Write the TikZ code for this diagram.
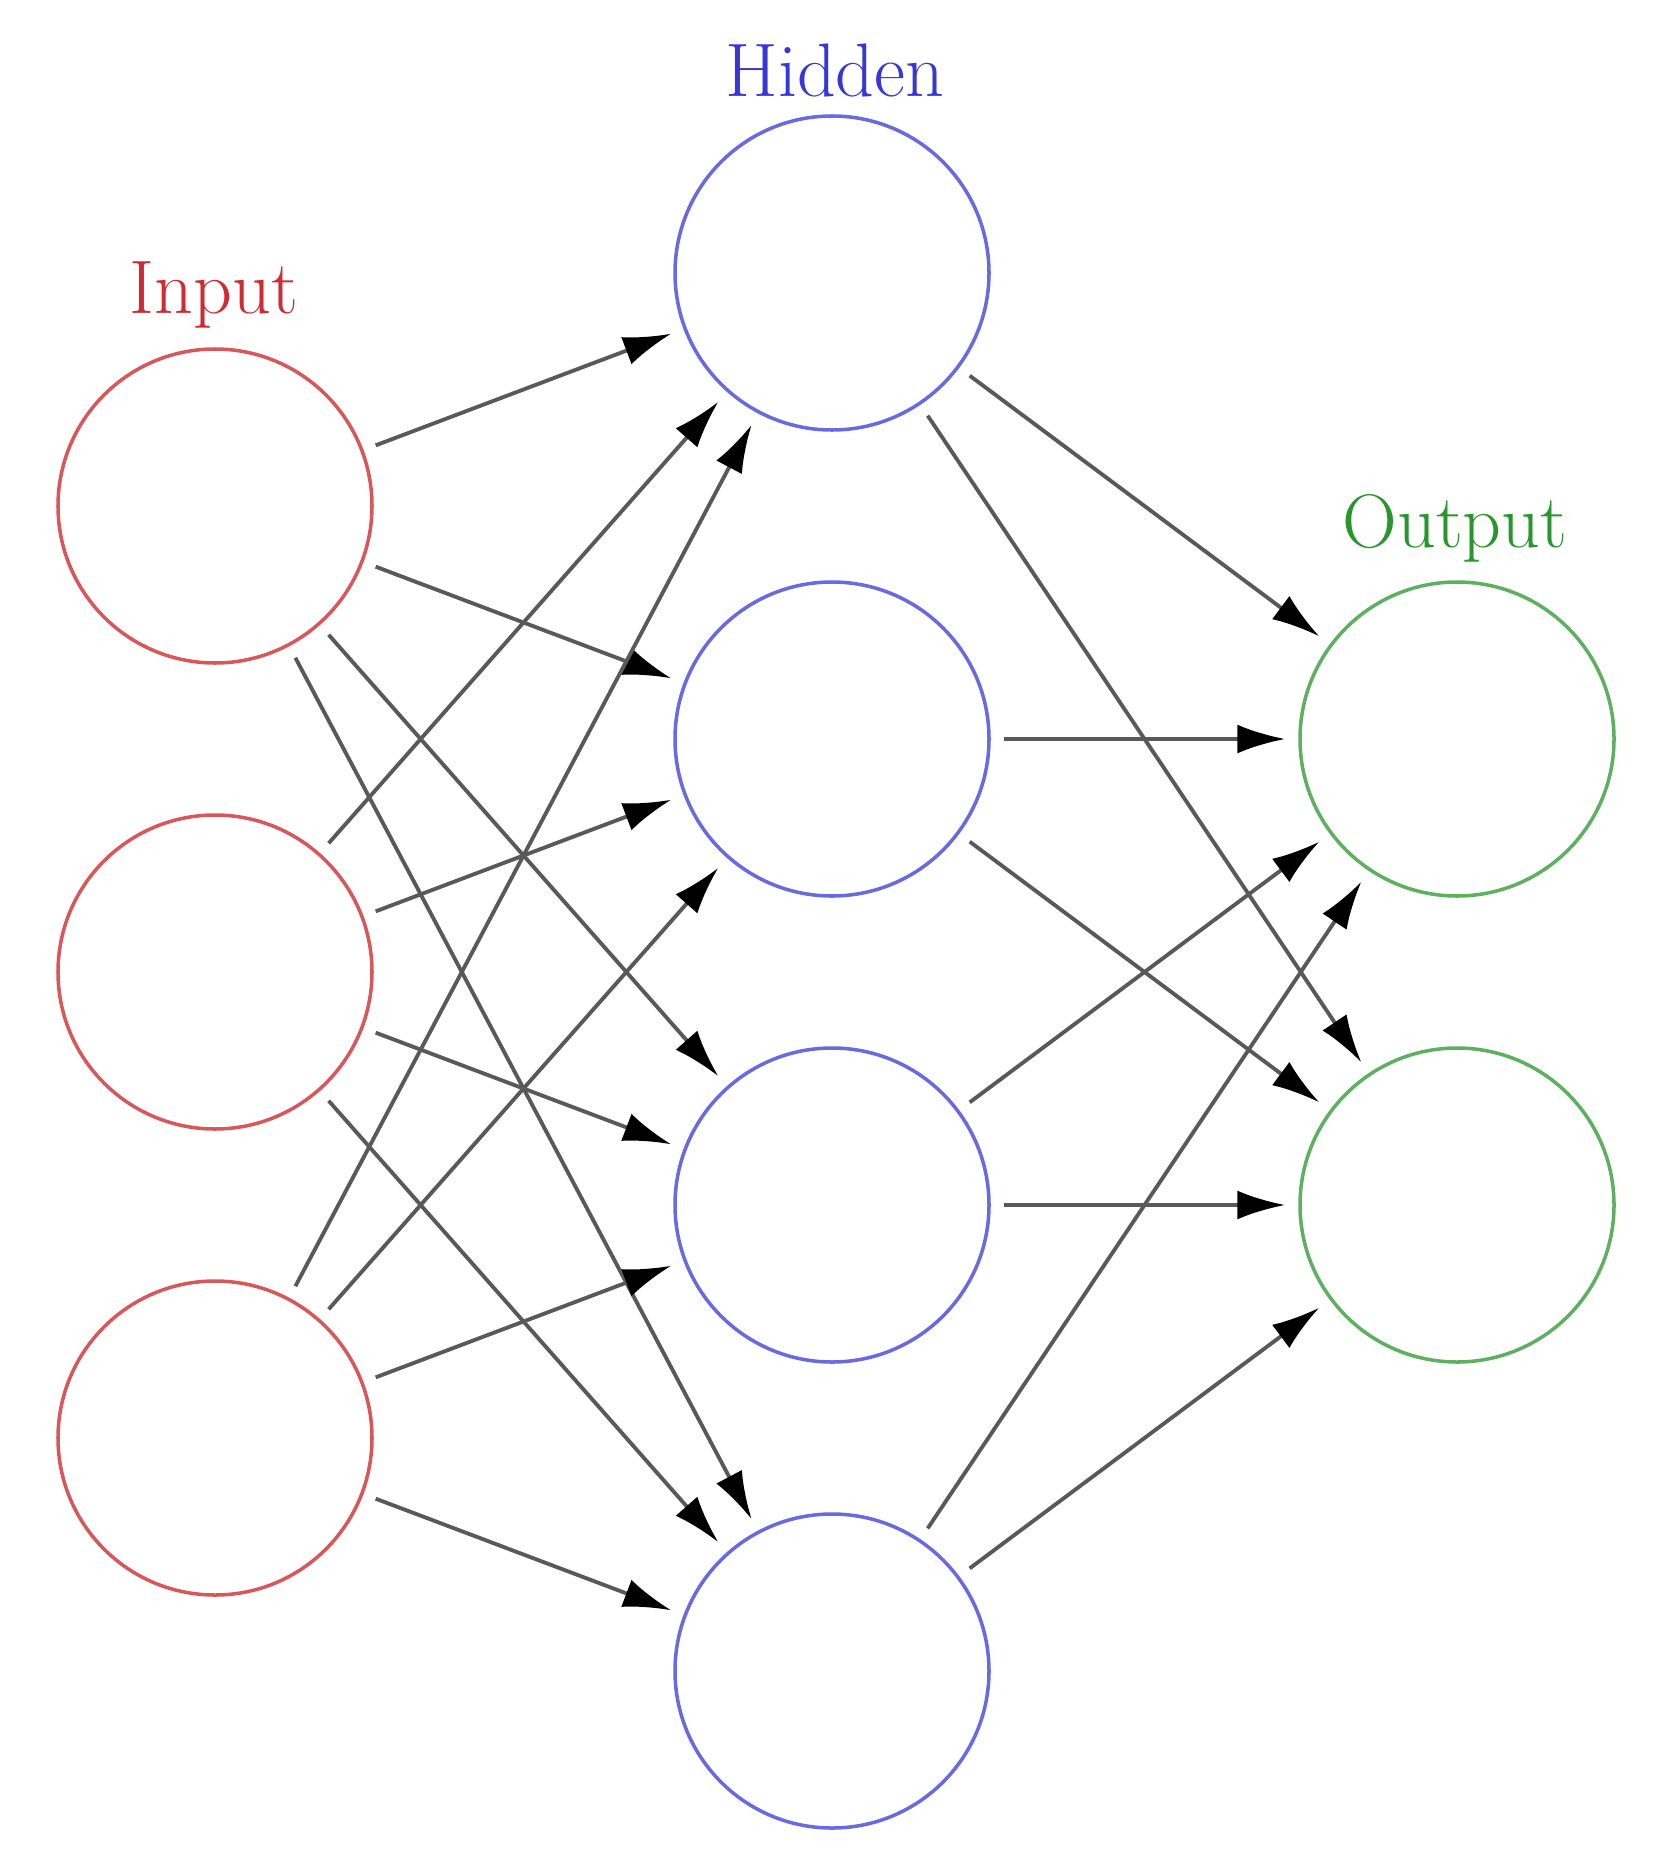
\documentclass[tikz,border=0pt]{standalone}
\usepackage{fontspec}
\usepackage{tikz}
\usetikzlibrary{arrows.meta}
\definecolor{inred}{RGB}{205,45,50}
\definecolor{hidblue}{RGB}{55,55,215}
\definecolor{outgreen}{RGB}{40,150,45}

\begin{document}
\begin{tikzpicture}[
  neuron/.style={circle,minimum size=3.14cm,inner sep=0pt,line width=1pt},
  lbl/.style={anchor=base,font=\fontsize{21.6}{26}\selectfont},
  conn/.style={black!65,line width=1.1pt,-{Latex[length=4.8mm,width=2.9mm,black]},
    shorten <=1.3mm,shorten >=1.3mm}]
\useasboundingbox (0,0) rectangle (16.53,-18.68);
\node [neuron,draw=inred!80] (in1) at (2.15,-5.06) {};
\node [neuron,draw=inred!80] (in2) at (2.15,-9.72) {};
\node [neuron,draw=inred!80] (in3) at (2.15,-14.38) {};
\node [neuron,draw=hidblue!75] (hid1) at (8.32,-2.73) {};
\node [neuron,draw=hidblue!75] (hid2) at (8.32,-7.39) {};
\node [neuron,draw=hidblue!75] (hid3) at (8.32,-12.05) {};
\node [neuron,draw=hidblue!75] (hid4) at (8.32,-16.71) {};
\node [neuron,draw=outgreen!75] (out1) at (14.57,-7.39) {};
\node [neuron,draw=outgreen!75] (out2) at (14.57,-12.05) {};
\node [lbl,text=inred] (inlbl) at (2.14,-3.13) {Input};
\node [lbl,text=hidblue] (hidlbl) at (8.35,-0.97) {Hidden};
\node [lbl,text=outgreen] (outlbl) at (14.55,-5.47) {Output};
\foreach \i in {1,2,3}
  \foreach \j in {1,...,4}
    \draw [conn] (in\i) -- (hid\j);
\foreach \j in {1,...,4}
  \foreach \k in {1,2}
    \draw [conn] (hid\j) -- (out\k);
\end{tikzpicture}
\end{document}
